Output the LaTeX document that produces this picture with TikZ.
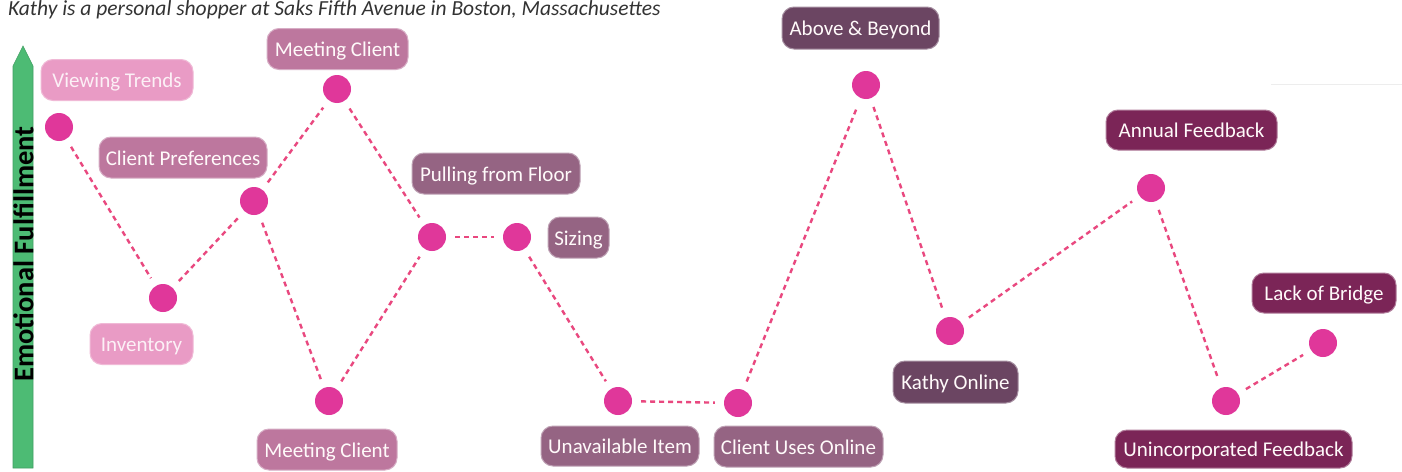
\documentclass[tikz,border=0pt]{standalone}
\usepackage{fontspec}
\setmainfont{Carlito}
\begin{document}
\definecolor{dotpink}{HTML}{E0379A}
\definecolor{linkpink}{HTML}{E9487F}
\definecolor{boxA}{HTML}{E99BC5}
\definecolor{boxB}{HTML}{BD779E}
\definecolor{boxC}{HTML}{956483}
\definecolor{boxD}{HTML}{6B4562}
\definecolor{boxE}{HTML}{7B2557}
\definecolor{arrowgreen}{HTML}{4DBB74}
\begin{tikzpicture}[x=1pt,y=-1pt,
  dot/.style={circle,fill=dotpink,draw=none,minimum size=28pt,inner sep=0pt},
  link/.style={draw=linkpink,line width=2.4pt,dash pattern=on 5pt off 4pt,shorten <=9pt,shorten >=9pt},
  stage/.style={rounded corners=12pt,minimum height=41pt,inner sep=0pt,text height=18pt,text depth=3pt,
    font=\fontsize{21}{24}\selectfont,text=white!92!pink},
  stageA/.style={stage,fill=boxA,draw=boxA!70!white,line width=1pt,text=white!85!boxA},
  stageB/.style={stage,fill=boxB,draw=boxB!60!white,line width=1pt},
  stageC/.style={stage,fill=boxC,draw=boxC!60!white,line width=1pt},
  stageD/.style={stage,fill=boxD,draw=boxD!60!white,line width=1pt},
  stageE/.style={stage,fill=boxE,draw=boxE!60!white,line width=1pt}]
\useasboundingbox (0,0) rectangle (1402,471);
\fill[white] (0,0) rectangle (1402,471);

% heading
\node[anchor=base west,inner sep=0pt,text=black!80,font=\fontsize{21.5}{24}\selectfont\itshape] (title) at (8,16)
  {Kathy is a personal shopper at Saks Fifth Avenue in Boston, Massachusettes};

% vertical axis arrow
\filldraw[fill=arrowgreen,draw=arrowgreen!85!black,line width=0.6pt]
  (13,468) -- (13,66) -- (23,46) -- (33,66) -- (33,468) -- cycle;
\node[rotate=90,inner sep=0pt,font=\fontsize{28.5}{30}\selectfont\bfseries] (axis) at (23.5,254) {Emotional Fulfillment};

% faint rule at the top right
\draw[black!7,line width=1pt] (1271,84) -- (1402,84);

% stage labels
\node[stageA,minimum width=152pt] (vt) at (117,80) {Viewing Trends};
\node[stageA,minimum width=103pt] (inv) at (141.5,344) {Inventory};
\node[stageB,minimum width=168pt] (cp) at (183,157.5) {Client Preferences};
\node[stageB,minimum width=141pt] (mc1) at (337.5,49) {Meeting Client};
\node[stageB,minimum width=140pt] (mc2) at (327,449.5) {Meeting Client};
\node[stageC,minimum width=168pt] (pf) at (496,173.5) {Pulling from Floor};
\node[stageC,minimum width=61pt] (sz) at (578.5,237.5) {Sizing};
\node[stageC,minimum width=158pt,minimum height=40pt] (ui) at (620,446) {Unavailable Item};
\node[stageC,minimum width=169pt] (cuo) at (798.5,446.5) {Client Uses Online};
\node[stageD,minimum width=157pt,minimum height=42pt] (ab) at (860.5,28) {Above \& Beyond};
\node[stageD,minimum width=125pt,minimum height=42pt] (ko) at (955.5,382) {Kathy Online};
\node[stageE,minimum width=171pt,minimum height=40pt] (af) at (1191.5,130) {Annual Feedback};
\node[stageE,minimum width=144pt,minimum height=40pt] (lb) at (1324,293) {Lack of Bridge};
\node[stageE,minimum width=237pt,minimum height=38pt] (uf) at (1233.5,449) {Unincorporated Feedback};

% journey points
\node[dot] (d1) at (59,127) {};
\node[dot] (d2) at (163,298) {};
\node[dot] (d3) at (254,201) {};
\node[dot] (d4) at (337,89) {};
\node[dot] (d5) at (329,401) {};
\node[dot] (d6) at (432,237) {};
\node[dot] (d7) at (517,237) {};
\node[dot] (d8) at (618,401) {};
\node[dot] (d9) at (738,403) {};
\node[dot] (d10) at (866,85) {};
\node[dot] (d11) at (950,331) {};
\node[dot] (d12) at (1151,188) {};
\node[dot] (d13) at (1226,401) {};
\node[dot] (d14) at (1323,343) {};

% dashed journey links
\draw[link] (d1) -- (d2);
\draw[link] (d2) -- (d3);
\draw[link] (d3) -- (d4);
\draw[link] (d3) -- (d5);
\draw[link] (d4) -- (d6);
\draw[link] (d5) -- (d6);
\draw[link] (d6) -- (d7);
\draw[link] (d7) -- (d8);
\draw[link] (d8) -- (d9);
\draw[link] (d9) -- (d10);
\draw[link] (d10) -- (d11);
\draw[link] (d11) -- (d12);
\draw[link] (d12) -- (d13);
\draw[link] (d13) -- (d14);
\end{tikzpicture}
\end{document}
